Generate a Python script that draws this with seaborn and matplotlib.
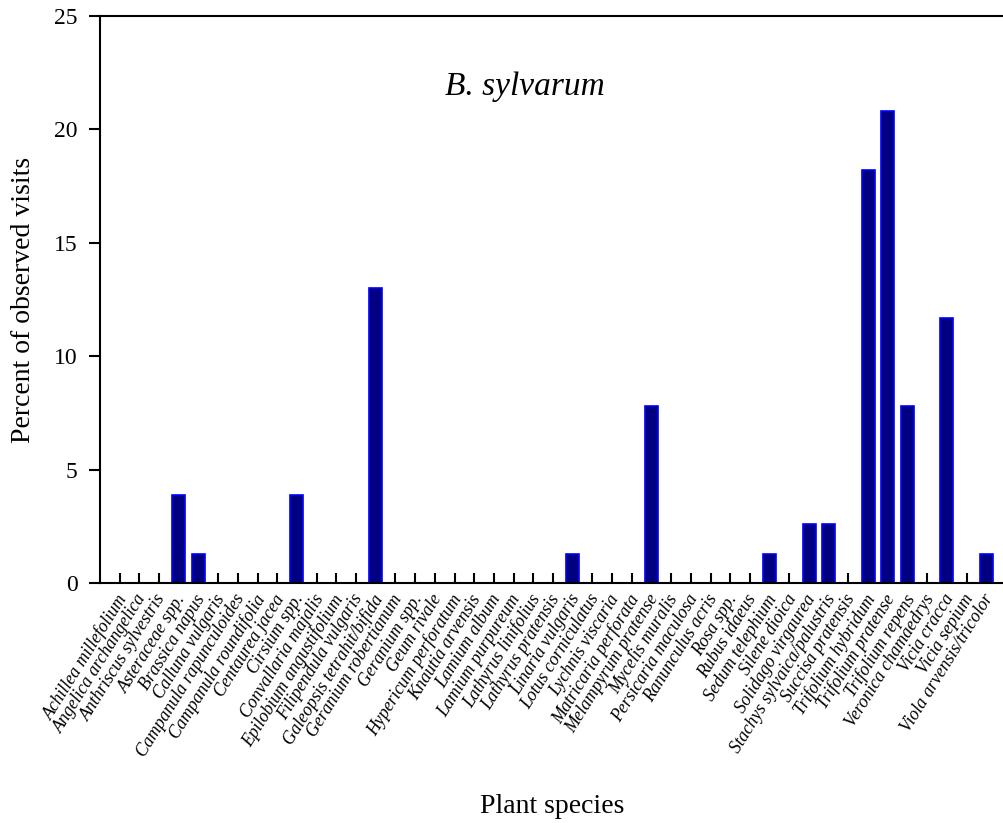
import matplotlib
matplotlib.use("Agg")
import matplotlib.pyplot as plt
import matplotlib.transforms as mtransforms
import seaborn as sns
import pandas as pd

species = [
    "Achillea millefolium", "Angelica archangelica", "Anthriscus sylvestris",
    "Asteraceae spp.", "Brassica napus", "Calluna vulgaris",
    "Campanula rapunculoides", "Campanula roundifolia", "Centaurea jacea",
    "Cirsium spp.", "Convallaria majalis", "Epilobium angustifolium",
    "Filipendula vulgaris", "Galeopsis tetrahit/bifida", "Geranium robertianum",
    "Geranium spp.", "Geum rivale", "Hypericum perforatum", "Knautia arvensis",
    "Lamium album", "Lamium purpureum", "Lathyrus linifolius",
    "Lathyrus pratensis", "Linaria vulgaris", "Lotus corniculatus",
    "Lychnis viscaria", "Matricaria perforata", "Melampyrum pratense",
    "Mycelis muralis", "Persicaria maculosa", "Ranunculus acris", "Rosa spp.",
    "Rubus idaeus", "Sedum telephium", "Silene dioica", "Solidago virgaurea",
    "Stachys sylvaica/palustris", "Succisa pratensis", "Trifolium hybridum",
    "Trifolium pratense", "Trifolium repens", "Veronica chamaedrys",
    "Vicia cracca", "Vicia sepium", "Viola arvensis/tricolor",
]
percent = [
    0, 0, 0, 3.9, 1.3, 0, 0, 0, 0, 3.9, 0, 0, 0, 13.0, 0,
    0, 0, 0, 0, 0, 0, 0, 0, 1.3, 0, 0, 0, 7.8, 0, 0,
    0, 0, 0, 1.3, 0, 2.6, 2.6, 0, 18.2, 20.8, 7.8, 0, 11.7, 0, 1.3,
]
yticks = [0, 5, 10, 15, 20, 25]

df = pd.DataFrame({"species": species, "percent": percent})

sns.set_style("ticks")
plt.rcParams["font.family"] = ["Liberation Serif", "DejaVu Serif"]
plt.rcParams["text.color"] = "black"
plt.rcParams["axes.labelcolor"] = "black"
plt.rcParams["xtick.color"] = "black"
plt.rcParams["ytick.color"] = "black"

fig = plt.figure(figsize=(10.04, 8.23), dpi=100)
ax = fig.add_axes([100 / 1004, 1 - 583 / 823, 1 - 100 / 1004, (583 - 16) / 823])

sns.barplot(data=df, x="species", y="percent", order=species,
            color="#000080", saturation=1, width=0.66,
            edgecolor="#0000ff", linewidth=1.2, ax=ax)

ax.set_xlim(-1, 44.9)
ax.set_ylim(0, 25)
ax.set_yticks(yticks)
ax.set_yticklabels([str(t) for t in yticks], fontsize=17)
ax.tick_params(axis="y", direction="out", length=8, width=1.5, pad=8)
ax.tick_params(axis="x", direction="in", length=7, width=1.5, pad=6)
ax.set_xticks(range(len(species)))
ax.set_xticklabels(species, rotation=58, ha="right", rotation_mode="anchor",
                   fontsize=12.8, fontstyle="italic")
offset = mtransforms.ScaledTranslation(-4 / 100, 0, fig.dpi_scale_trans)
for lbl in ax.get_xticklabels():
    lbl.set_transform(lbl.get_transform() + offset)

for s in ["left", "bottom", "top"]:
    ax.spines[s].set_linewidth(1.5)
    ax.spines[s].set_color("black")
ax.spines["right"].set_visible(False)

ax.set_xlabel("Plant species", fontsize=20)
ax.set_ylabel("Percent of observed visits", fontsize=20)
ax.xaxis.set_label_coords(0.5, -0.372)
ax.yaxis.set_label_coords(-0.071, 0.5)

ax.text(0.47, 0.875, "B. sylvarum", transform=ax.transAxes, fontsize=24,
        fontstyle="italic", ha="center", va="center")

fig.savefig("out.png", dpi=100)
